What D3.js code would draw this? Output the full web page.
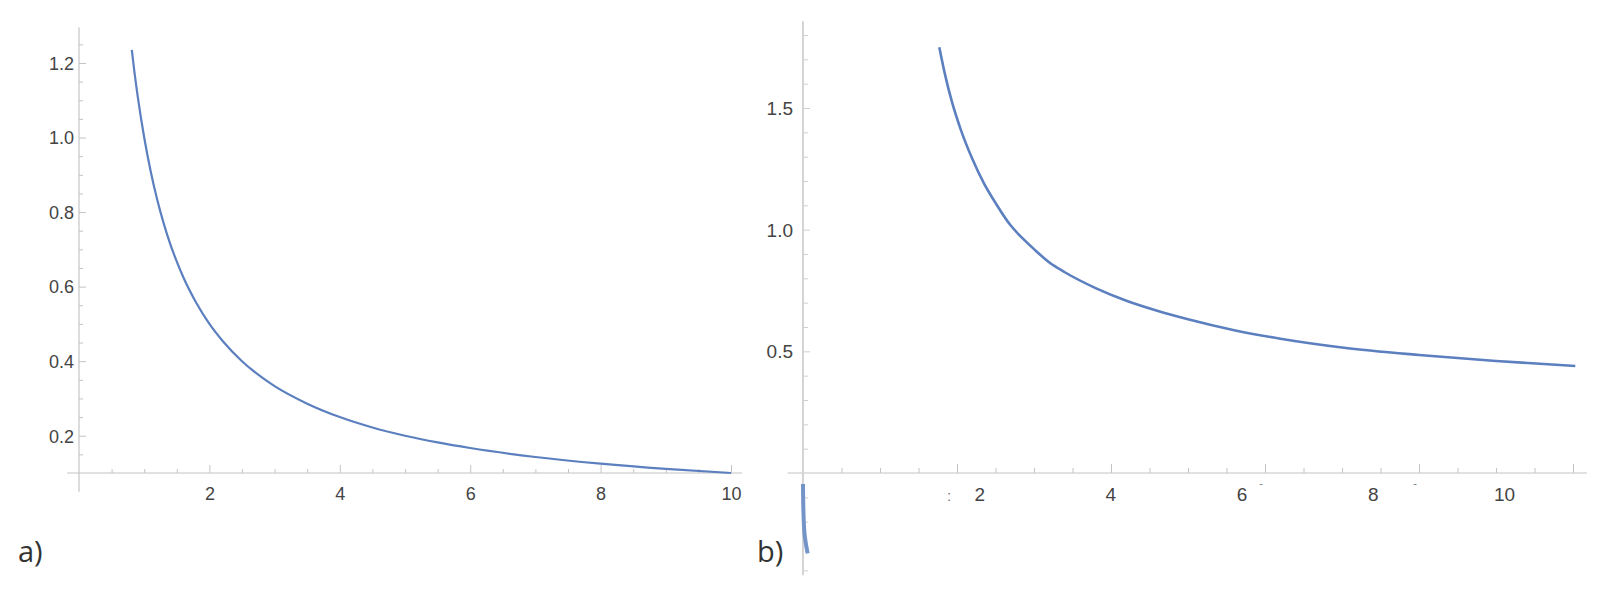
<!DOCTYPE html>
<html><head><meta charset="utf-8">
<script src="https://cdn.jsdelivr.net/npm/d3@7"></script>
<style>body{margin:0;background:#fff}svg{display:block}</style>
</head><body>
<svg id="c" width="1608" height="595"></svg>
<script>
// ---- data ----
const aX = [0.81,0.85,0.9,0.95,1.0,1.1,1.2,1.3,1.4,1.5,1.6,1.8,2.0,2.2,2.5,2.8,3.0,3.5,4.0,4.5,5.0,5.5,6.0,7.0,8.0,9.0,10.0];
const aY = [1.235,1.176,1.111,1.053,1.0,0.909,0.833,0.769,0.714,0.667,0.625,0.556,0.5,0.455,0.4,0.357,0.333,0.286,0.25,0.222,0.2,0.182,0.167,0.143,0.125,0.111,0.1];
const bX = [1.77,1.85,1.93,2.05,2.2,2.35,2.5,2.69,2.85,3.0,3.2,3.4,3.8,4.2,4.6,5.0,5.6,6.2,7.0,8.0,9.0,10.03];
const bY = [1.75,1.63,1.53,1.41,1.29,1.19,1.11,1.02,0.965,0.92,0.865,0.825,0.76,0.708,0.667,0.632,0.587,0.552,0.516,0.485,0.46,0.44];
const bNegX = [0.0,0.005,0.02,0.06];
const bNegY = [-0.045,-0.15,-0.25,-0.33];
const aXTicks = [2,4,6,8,10];
const aYTicks = [0.2,0.4,0.6,0.8,1.0,1.2];
const bXTicks = [2,4,6,8,10];
const bYTicks = [0.5,1.0,1.5];
const panelLabels = ["a)","b)"];

const svg = d3.select("#c");
const axisCol = "#c4c4c4", labCol = "#444", lineCol = "#5b7fbf";
const font = "Liberation Sans, Arial, sans-serif";

function rangeStep(a,b,s){const r=[];for(let v=a;v<=b+1e-9;v+=s)r.push(+v.toFixed(4));return r;}

// ---- panel a ----
const xA = d3.scaleLinear().domain([0,10]).range([79,731]);
const yA = d3.scaleLinear().domain([0.1,1.2]).range([473,63]);
const gA = svg.append("g");
gA.append("line").attr("x1",xA(-0.18)).attr("x2",xA(10.17)).attr("y1",yA(0.1)).attr("y2",yA(0.1)).attr("stroke",axisCol).attr("stroke-width",1.2);
gA.append("line").attr("x1",xA(0)).attr("x2",xA(0)).attr("y1",yA(1.295)).attr("y2",yA(0.05)).attr("stroke",axisCol).attr("stroke-width",1.2);
const aXMinor = rangeStep(0.5,10,0.5).filter(v=>!aXTicks.includes(v));
gA.append("g").attr("transform",`translate(0,${yA(0.1)})`)
  .call(d3.axisBottom(xA).tickValues(aXMinor).tickSize(-4).tickFormat(""))
  .call(g=>{g.select(".domain").remove();g.selectAll("line").attr("stroke",axisCol);});
gA.append("g").attr("transform",`translate(0,${yA(0.1)})`)
  .call(d3.axisBottom(xA).tickValues(aXTicks).tickSize(-8).tickPadding(0).tickFormat(d3.format("d")))
  .call(g=>{g.select(".domain").remove();g.selectAll("line").attr("stroke",axisCol);
    g.selectAll("text").attr("y",27).attr("dy",0).attr("fill",labCol).style("font-family",font).style("font-size","18px");});
const aYMinor = rangeStep(0.15,1.25,0.05).filter(v=>!aYTicks.some(t=>Math.abs(t-v)<1e-6));
gA.append("g").attr("transform",`translate(${xA(0)},0)`)
  .call(d3.axisLeft(yA).tickValues(aYMinor).tickSize(-4).tickFormat(""))
  .call(g=>{g.select(".domain").remove();g.selectAll("line").attr("stroke",axisCol);});
gA.append("g").attr("transform",`translate(${xA(0)},0)`)
  .call(d3.axisLeft(yA).tickValues(aYTicks).tickSize(-7).tickPadding(0).tickFormat(d3.format(".1f")))
  .call(g=>{g.select(".domain").remove();g.selectAll("line").attr("stroke",axisCol);
    g.selectAll("text").attr("x",-5).attr("dy","0.35em").attr("fill",labCol).style("font-family",font).style("font-size","18px");});
const lineA = d3.line().x((d,i)=>xA(aX[i])).y((d,i)=>yA(aY[i])).curve(d3.curveMonotoneX);
gA.append("path").attr("d",lineA(aX)).attr("fill","none").attr("stroke",lineCol).attr("stroke-width",2.2);

// ---- panel b ----
const xB = d3.scaleLinear().domain([0,10]).range([803,1573]);
const xBLab = d3.scaleLinear().domain([0,10]).range([848,1504]);
const yB = d3.scaleLinear().domain([0,1.5]).range([473,108]);
const gB = svg.append("g");
gB.append("line").attr("x1",xB(-0.2)).attr("x2",xB(10.18)).attr("y1",yB(0)).attr("y2",yB(0)).attr("stroke",axisCol).attr("stroke-width",1.2);
gB.append("line").attr("x1",xB(0)).attr("x2",xB(0)).attr("y1",yB(1.856)).attr("y2",yB(-0.42)).attr("stroke","#d4d4d4").attr("stroke-width",2);
const bXMinor = rangeStep(0.5,10,0.5).filter(v=>!bXTicks.includes(v));
gB.append("g").attr("transform",`translate(0,${yB(0)})`)
  .call(d3.axisBottom(xB).tickValues(bXMinor).tickSize(-5).tickFormat(""))
  .call(g=>{g.select(".domain").remove();g.selectAll("line").attr("stroke",axisCol);});
gB.append("g").attr("transform",`translate(0,${yB(0)})`)
  .call(d3.axisBottom(xB).tickValues(bXTicks).tickSize(-9).tickFormat(""))
  .call(g=>{g.select(".domain").remove();g.selectAll("line").attr("stroke",axisCol);});
gB.append("g").attr("transform",`translate(0,${yB(0)})`)
  .call(d3.axisBottom(xBLab).tickValues(bXTicks).tickSize(0).tickPadding(0).tickFormat(d3.format("d")))
  .call(g=>{g.select(".domain").remove();g.selectAll("line").remove();
    g.selectAll("text").attr("y",28).attr("dy",0).attr("fill",labCol).style("font-family",font).style("font-size","19px");});
const marks = [{v:1.95,t:":",dy:28,s:15},{v:6,t:"-",dy:14,s:11},{v:8,t:"-",dy:14,s:11}];
gB.selectAll("text.mk").data(marks).join("text").attr("class","mk")
  .attr("x",d=>xB(d.v)-4).attr("y",d=>yB(0)+d.dy).attr("fill","#777")
  .style("font-family",font).style("font-size",d=>d.s+"px").attr("text-anchor","middle").text(d=>d.t);
const bYMinor = rangeStep(-0.4,1.8,0.1).filter(v=>Math.abs(v)>1e-6 && !bYTicks.some(t=>Math.abs(t-v)<1e-6));
gB.append("g").attr("transform",`translate(${xB(0)},0)`)
  .call(d3.axisLeft(yB).tickValues(bYMinor).tickSize(-5).tickFormat(""))
  .call(g=>{g.select(".domain").remove();g.selectAll("line").attr("stroke","#d0d0d0");});
gB.append("g").attr("transform",`translate(${xB(0)},0)`)
  .call(d3.axisLeft(yB).tickValues(bYTicks).tickSize(-7).tickPadding(0).tickFormat(d3.format(".1f")))
  .call(g=>{g.select(".domain").remove();g.selectAll("line").attr("stroke","#d0d0d0");
    g.selectAll("text").attr("x",-10).attr("dy","0.35em").attr("fill",labCol).style("font-family",font).style("font-size","19px");});
const lineB = d3.line().x((d,i)=>xB(bX[i])).y((d,i)=>yB(bY[i])).curve(d3.curveMonotoneX);
gB.append("path").attr("d",lineB(bX)).attr("fill","none").attr("stroke",lineCol).attr("stroke-width",2.6);
const lineBN = d3.line().x((d,i)=>xB(bNegX[i])).y((d,i)=>yB(bNegY[i])).curve(d3.curveMonotoneY);
gB.append("path").attr("d",lineBN(bNegX)).attr("fill","none").attr("stroke","#7393c9").attr("stroke-width",4);

// ---- panel labels ----
svg.selectAll("text.pl").data(panelLabels).join("text").attr("class","pl")
  .attr("x",(d,i)=>i===0?18:757).attr("y",562)
  .attr("fill","#333").style("font-family","Open Sans, sans-serif").style("font-size","29px").text(d=>d);
</script>
</body></html>
